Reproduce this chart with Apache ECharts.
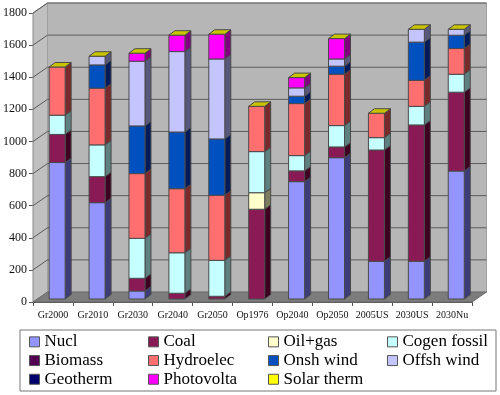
<!DOCTYPE html>
<html><head><meta charset="utf-8">
<style>html,body{margin:0;padding:0;background:#fff}#c{width:500px;height:395px}</style>
<script src="https://cdn.jsdelivr.net/npm/echarts@6/dist/echarts.min.js"></script>
</head><body><div id="c"></div>
<script>
var categories = ['Gr2000','Gr2010','Gr2030','Gr2040','Gr2050','Op1976','Op2040','Op2050','2005US','2030US','2030Nu'];
var yTicks = [0,200,400,600,800,1000,1200,1400,1600,1800];
var nucl     = [850,600,50,0,0,0,731,880,235,235,797];
var coal     = [175,162,79,36,17,559,67,67,693,849,491];
var oilGas   = [0,0,0,0,0,103,0,0,0,0,0];
var cogen    = [120,198,249,252,224,256,95,133,77,116,112];
var biomass  = [0,0,0,0,0,0,0,0,0,0,0];
var hydro    = [300,353,403,399,405,282,324,320,152,162,160];
var onsh     = [0,145,297,353,351,0,46,50,0,238,83];
var offsh    = [0,54,403,501,498,0,52,45,0,80,37];
var geotherm = [0,0,0,0,0,0,0,0,0,0,0];
var photo    = [0,0,50,102,154,0,64,127,0,0,0];
var solar    = [0,0,0,0,0,0,0,0,0,0,0];

var names  = ['Nucl','Coal','Oil+gas','Cogen fossil','Biomass','Hydroelec','Onsh wind','Offsh wind','Geotherm','Photovolta','Solar therm'];
var values = [nucl,coal,oilGas,cogen,biomass,hydro,onsh,offsh,geotherm,photo,solar];
var colors = ['#9494ff','#8a1a55','#ffffcc','#c6ffff','#520052','#ff6f6f','#0050c0','#c4c4ff','#00006e','#ff00ff','#ffff00'];
var sides  = ['#3c3c78','#3d0020','#7c7c5e','#5f8080','#290029','#7a2a2a','#001a5a','#58587c','#000037','#800080','#808000'];
var capCol = '#c8c400';

var wallDx = 14.5, wallDy = -10;
var shiftX = 4.2, shiftY = -3, barW = 16, depX = 6, depY = -4.5;

function poly(pts, fill, stroke){
  return {type:'polygon', shape:{points:pts}, style:{fill:fill, stroke:stroke||'#4a4a4a', lineWidth:1}};
}
function wallsItem(params, api){
  if (params.dataIndex !== 0) return null;
  var band = api.size([1,0])[0];
  var x0 = api.coord([0,0])[0]-band/2, x1 = api.coord([categories.length-1,0])[0]+band/2;
  var y0 = api.coord([0,0])[1], yT = api.coord([0,1800])[1];
  var ch = [];
  ch.push(poly([[x0,y0],[x0+wallDx,y0+wallDy],[x0+wallDx,yT+wallDy],[x0,yT]],'#c0c0c0','#8a8a8a'));
  ch.push(poly([[x0+wallDx,y0+wallDy],[x1+wallDx,y0+wallDy],[x1+wallDx,yT+wallDy],[x0+wallDx,yT+wallDy]],'#b6b6b6','#a0a0a0'));
  ch.push(poly([[x0,y0],[x1,y0],[x1+wallDx,y0+wallDy],[x0+wallDx,y0+wallDy]],'#7c7c7c','#6a6a6a'));
  yTicks.forEach(function(v){
    if (v === 0) return;
    var y = api.coord([0,v])[1];
    ch.push({type:'polyline',shape:{points:[[x0,y],[x0+wallDx,y+wallDy],[x1+wallDx,y+wallDy]]},style:{fill:null,stroke:'#5a5a5a',lineWidth:1}});
  });
  return {type:'group',children:ch};
}
function barItem(sIdx){
  return function(params, api){
    var v = api.value(1), base = api.value(2);
    var c = api.coord([api.value(0), base]);
    var t = api.coord([api.value(0), base+v]);
    var xl = c[0]+shiftX-barW/2, xr = xl+barW, yb = c[1]+shiftY, yt = t[1]+shiftY;
    var ch = [];
    if (v > 0){
      ch.push(poly([[xr,yb],[xr+depX,yb+depY],[xr+depX,yt+depY],[xr,yt]],sides[sIdx]));
      ch.push(poly([[xl,yb],[xr,yb],[xr,yt],[xl,yt]],colors[sIdx]));
    }
    if (sIdx === names.length-1){
      ch.push(poly([[xl,yt],[xr,yt],[xr+depX,yt+depY],[xl+depX,yt+depY]],capCol));
    }
    return {type:'group',children:ch};
  };
}
var cum = categories.map(function(){return 0;});
var barSeries = names.map(function(n,s){
  var d = categories.map(function(c,i){
    var row = [i, values[s][i], cum[i]];
    cum[i] += values[s][i];
    return row;
  });
  return {name:n, type:'custom', coordinateSystem:'cartesian2d', renderItem:barItem(s), clip:false, silent:true,
    itemStyle:{color:colors[s], borderColor:'#555', borderWidth:1}, encode:{x:0,y:1}, data:d, z:3};
});
var wallSeries = {name:'walls', type:'custom', renderItem:wallsItem, clip:false, silent:true,
  data:categories.map(function(c,i){return [i,0];}), encode:{x:0,y:1}, z:1};

var colX = [29,148,268,387];
var legends = colX.map(function(x,k){
  return {orient:'vertical', left:x, top:332.5, itemWidth:10, itemHeight:10, itemGap:0, padding:0, selectedMode:false,
    icon:'rect', itemStyle:{borderColor:'#555',borderWidth:1},
    textStyle:{fontFamily:'Liberation Serif',fontSize:17,color:'#000',lineHeight:18.7,padding:[0,0,0,0]},
    data:names.filter(function(n,i){return i%4===k;})};
});
var chart = echarts.init(document.getElementById('c'),null,{renderer:'canvas'});
chart.setOption({
  animation:false, backgroundColor:'#fff',
  grid:{left:33,top:13,width:439,height:289,containLabel:false,outerBoundsMode:'none'},
  xAxis:{type:'category',data:categories,boundaryGap:true,
    axisLine:{lineStyle:{color:'#555'}},axisTick:{show:true,length:4,alignWithLabel:false,lineStyle:{color:'#555'}},
    axisLabel:{interval:0,fontFamily:'Liberation Serif',fontSize:10,color:'#111',margin:8,hideOverlap:false},splitLine:{show:false}},
  yAxis:{type:'value',min:0,max:1800,interval:200,
    axisLine:{show:true,lineStyle:{color:'#555'}},axisTick:{show:true,length:4,lineStyle:{color:'#555'}},
    axisLabel:{fontFamily:'Liberation Serif',fontSize:12,color:'#111',margin:6,formatter:function(v){return String(v);}},splitLine:{show:false}},
  legend:legends,
  graphic:[{type:'rect',left:19.5,top:329.5,shape:{width:476,height:61},style:{fill:'#fff',stroke:'#777',lineWidth:1},z:-1}],
  series:[wallSeries].concat(barSeries)
});
</script></body></html>
